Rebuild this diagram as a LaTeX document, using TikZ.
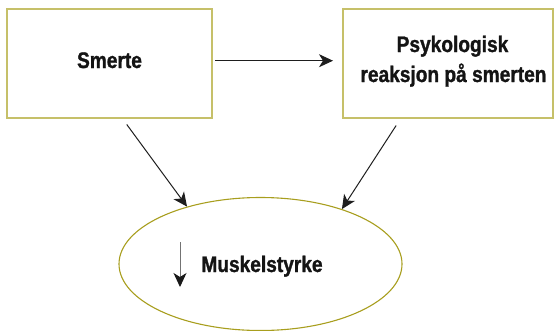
\documentclass[tikz,border=0pt]{standalone}
\usepackage{fontspec}
\newfontfamily\condfont{Liberation Sans}[FakeStretch=0.85,FakeBold=1.2]
\usetikzlibrary{arrows.meta,shapes.geometric,calc}
\definecolor{boxline}{RGB}{198,192,105}
\definecolor{ellline}{RGB}{168,158,30}
\definecolor{arrline}{RGB}{30,30,30}
\begin{document}
\begin{tikzpicture}[x=1pt,y=-1pt,
  boxstyle/.style={draw=boxline,line width=1.2pt,rectangle,inner sep=0pt},
  label text/.style={font=\condfont\bfseries\fontsize{22.5}{30}\selectfont,text=black!92,inner sep=0pt,anchor=base},
  conn/.style={draw=arrline,line width=1pt,-{Stealth[length=14pt,width=13pt,inset=4pt]}}]
\useasboundingbox (0,0) rectangle (554,330);
\node[boxstyle,minimum width=205pt,minimum height=109pt] (smerte) at (109.5,63.5) {};
\node[boxstyle,minimum width=210pt,minimum height=109pt] (psyk) at (448,63.5) {};
\node[draw=ellline,line width=1.1pt,ellipse,minimum width=283pt,minimum height=133pt,inner sep=0pt] (ell) at (260.5,264) {};
\node[label text] (t1) at (109.5,68) {Smerte};
\node[label text] (t2a) at (452.5,52) {Psykologisk};
\node[label text] (t2b) at (453.5,82) {reaksjon på smerten};
\node[label text] (t3) at (262,272) {Muskelstyrke};
\coordinate (h1) at (215,60.7);
\coordinate (h2) at (333,60.7);
\draw[conn] (h1) -- (h2);
\coordinate (ls) at (122,118);
\coordinate (rs) at (401,118);
\draw[conn,shorten <=8pt] (ls) -- (ell.142);
\draw[conn,shorten <=9pt] (rs) -- (ell.34);
\coordinate (ma) at (180,242);
\coordinate (mb) at (180,287);
\draw[draw=black!55,line width=1pt,-{Stealth[length=14pt,width=13pt,inset=4pt,color=black!90]}] (ma) -- (mb);
\end{tikzpicture}
\end{document}
